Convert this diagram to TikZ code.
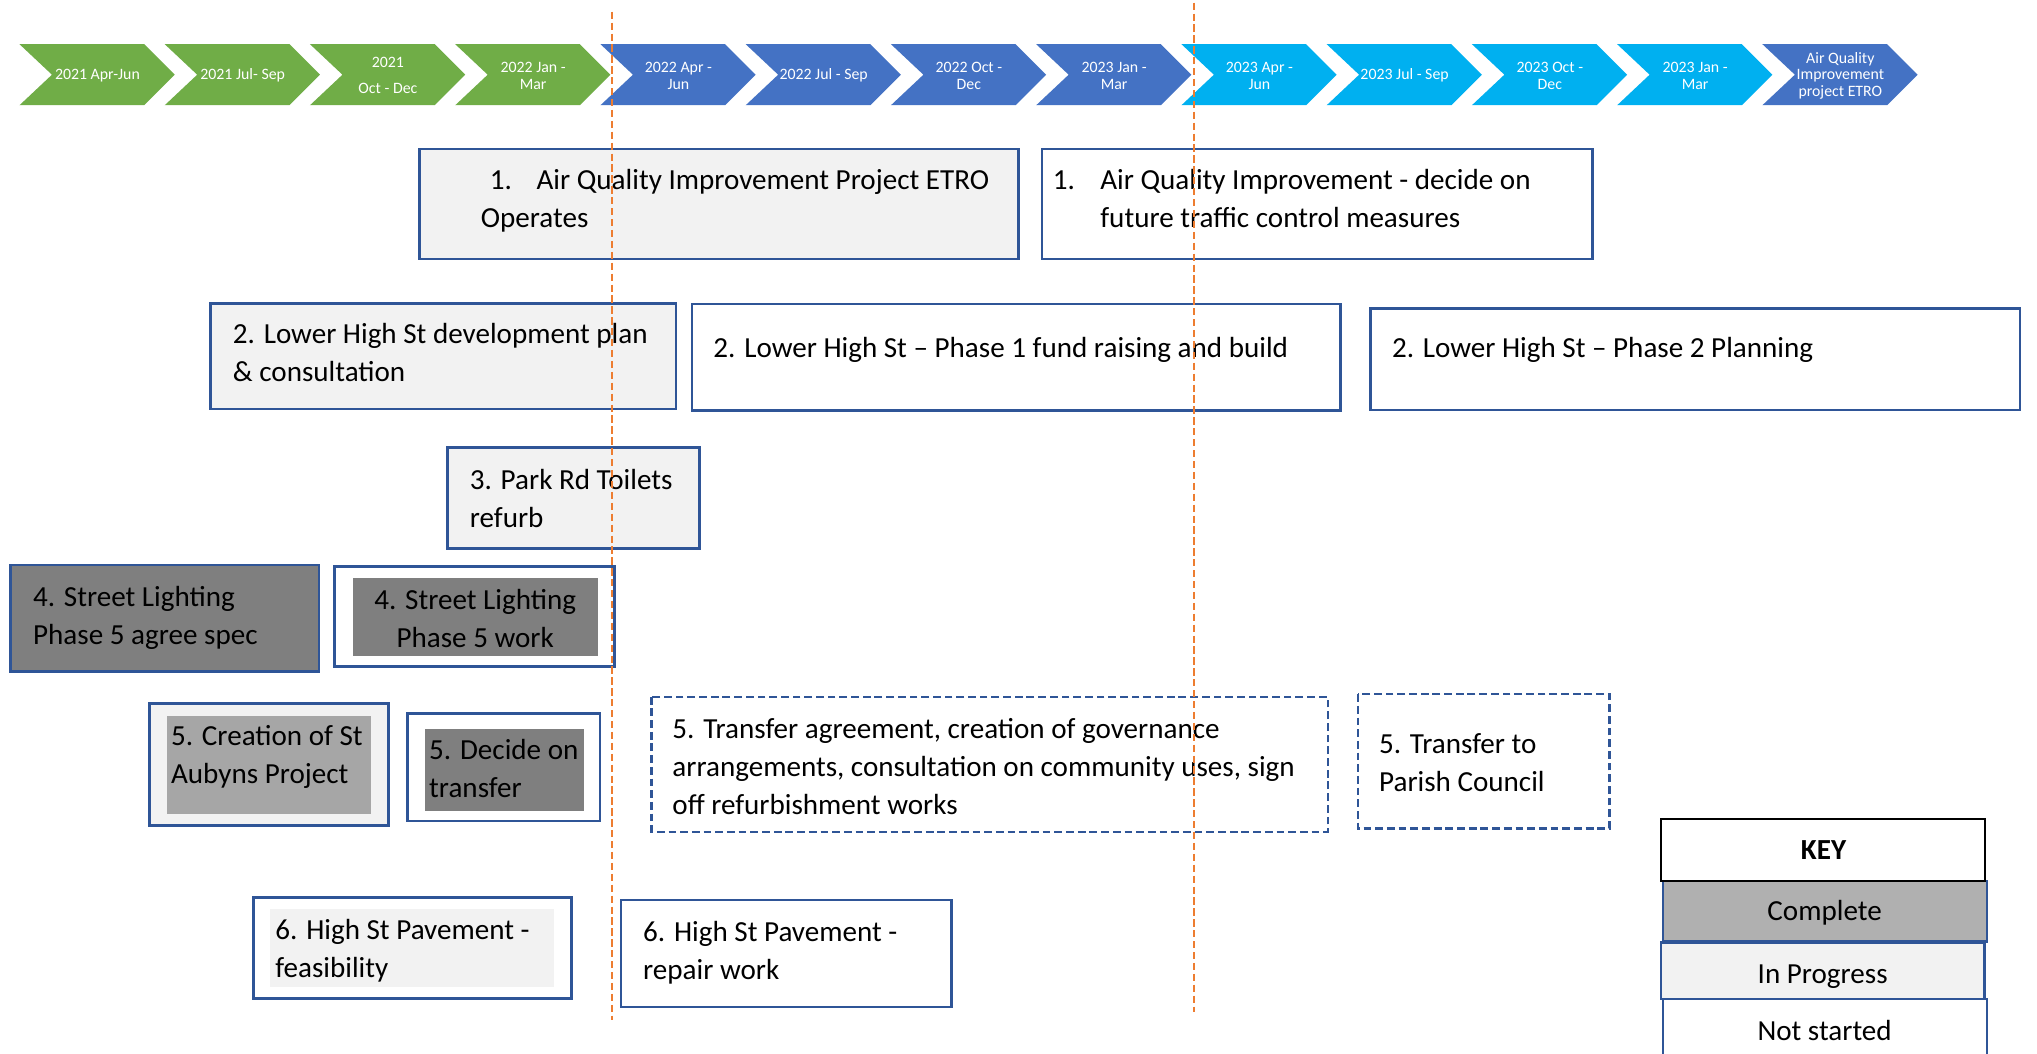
\documentclass[tikz,border=0pt]{standalone}
\usepackage{fontspec}
\setmainfont{Carlito}
\definecolor{gr}{HTML}{70AD47}
\definecolor{bl}{HTML}{4472C4}
\definecolor{cy}{HTML}{00B0F0}
\definecolor{bord}{HTML}{2F5597}
\definecolor{lg}{HTML}{F2F2F2}
\definecolor{dg}{HTML}{7F7F7F}
\definecolor{mg}{HTML}{A6A6A6}
\definecolor{kg}{HTML}{B0B0B0}
\definecolor{orng}{HTML}{ED7D31}
\begin{document}
\begin{tikzpicture}[x=0.5pt,y=-0.5pt,
  bx/.style={draw=bord, line width=1pt},
  dbx/.style={draw=bord, line width=0.8pt, dash pattern=on 3pt off 1.5pt},
  txt/.style={anchor=base west, align=left, inner sep=0pt, yshift=-0.8pt, font=\fontsize{11.2}{14.6}\selectfont},
  ctr/.style={anchor=base, align=center, inner sep=0pt, yshift=-0.8pt, font=\fontsize{11.2}{14.6}\selectfont},
  ctxt/.style={align=center, inner sep=0pt, text=white, yshift=-0.4pt, font=\fontsize{6.1}{6.4}\selectfont},
  orl/.style={draw=orng, line width=0.75pt, dash pattern=on 2.8pt off 1.4pt}]
\useasboundingbox (0,0) rectangle (1568,810.6);
\fill[white] (0,0) rectangle (1568,810.6);
% chevrons
\foreach \i/\col/\t in {0/gr/{2021 Apr-Jun},1/gr/{2021 Jul- Sep},2/gr/{2021\\[3.6pt]Oct - Dec},3/gr/{2022 Jan -\\Mar},
  4/bl/{2022 Apr -\\Jun},5/bl/{2022 Jul - Sep},6/bl/{2022 Oct -\\Dec},7/bl/{2023 Jan -\\Mar},
  8/cy/{2023 Apr -\\Jun},9/cy/{2023 Jul - Sep},10/cy/{2023 Oct -\\Dec},11/cy/{2023 Jan -\\Mar},
  12/bl/{Air Quality\\Improvement\\project ETRO}}{
  \pgfmathsetmacro\xo{15+111.8*\i}
  \fill[\col] (\xo,34) -- ++(96,0) -- ++(23.5,23.5) -- ++(-23.5,23.5) -- ++(-96,0) -- ++(25,-23.5) -- cycle;
  \node[ctxt] (c\i) at (\xo+60,57.5) {\t};
}
% row 1 (node anchors are on the last line's baseline)
\draw[bx, fill=lg] (323,114.7) rectangle (784.2,199.4);
\node[txt] (t1a) at (369.7,173.6) {\hspace*{3.5pt}\makebox[18pt][l]{1.}Air Quality Improvement Project ETRO\\Operates};
\draw[bx, fill=white] (802.2,114.7) rectangle (1225.7,199.4);
\node[txt] (t1b) at (810,173.6) {\makebox[18.3pt][l]{1.}Air Quality Improvement - decide on\\\hspace*{18.3pt}future traffic control measures};
% row 2
\draw[bx, fill=lg] (162.2,233.5) rectangle (520.2,314.9);
\node[txt] (t2a) at (178.9,292) {2. Lower High St development plan\\\& consultation};
\draw[bx, fill=white] (532.8,234) rectangle (1031.8,316.2);
\node[txt] (t2b) at (548.8,273.8) {2. Lower High St – Phase 1 fund raising and build};
\draw[bx, fill=white] (1055.1,237.4) rectangle (1554.8,315.6);
\node[txt] (t2c) at (1071.1,273.8) {2. Lower High St – Phase 2 Planning};
% row 3
\draw[bx, fill=lg] (344.4,344.6) rectangle (538.4,422.4);
\node[txt] (t3) at (361.3,404.2) {3. Park Rd Toilets\\refurb};
% row 4
\draw[bx, fill=dg] (7.9,435) rectangle (245.7,517);
\node[txt] (t4a) at (25.1,494.7) {4. Street Lighting\\Phase 5 agree spec};
\draw[bx, fill=white] (257.7,436.2) rectangle (472.9,513.2);
\fill[dg] (271.8,445.2) rectangle (460.3,504.8);
\node[ctr] (t4b) at (365.8,496.6) {4. Street Lighting\\Phase 5 work};
% row 5
\draw[bx, fill=lg] (115.3,541.5) rectangle (299.1,635.6);
\fill[mg] (128.8,551.2) rectangle (285.9,626.9);
\node[txt] (t5a) at (131.3,601.8) {5. Creation of St\\Aubyns Project};
\draw[bx, fill=white] (313.6,549.2) rectangle (461.9,632.1);
\fill[dg] (327.4,561.5) rectangle (449.3,623.9);
\node[txt] (t5b) at (330,612) {5. Decide on\\transfer};
\draw[dbx, fill=white] (501.5,536.3) rectangle (1021.9,640.2);
\node[txt] (t5c) at (517.2,625.3) {5. Transfer agreement, creation of governance\\arrangements, consultation on community uses, sign\\off refurbishment works};
\draw[dbx, fill=white] (1045,534.3) rectangle (1238.9,637.7);
\node[txt] (t5d) at (1061.2,607.6) {5. Transfer to\\Parish Council};
% row 6
\draw[bx, fill=white] (195.1,690.8) rectangle (439.7,768.5);
\fill[lg] (208.1,699.8) rectangle (426.4,759.6);
\node[txt] (t6a) at (211.6,750.6) {6. High St Pavement -\\feasibility};
\draw[bx, fill=white] (478.1,692.8) rectangle (732.6,775);
\node[txt] (t6b) at (494.7,752.6) {6. High St Pavement -\\repair work};
% key
\draw[bx, fill=kg] (1280,678.2) rectangle (1529.4,724.9);
\draw[bx, fill=lg] (1278.5,725.7) rectangle (1527.6,769.1);
\draw[bx, fill=white] (1280,769.1) rectangle (1529.4,815);
\draw[line width=1pt, fill=white] (1278.5,630.5) rectangle (1528.1,678.2);
\node[ctr, font=\fontsize{11.2}{14.6}\selectfont\bfseries] (kkey) at (1403.7,660) {KEY};
\node[ctr] (kcomp) at (1404.5,707) {Complete};
\node[ctr] (kprog) at (1403,755.7) {In Progress};
\node[ctr] (knot) at (1404.5,799.3) {Not started};
% today lines
\draw[orl] (470.9,9) -- (470.9,785.5);
\draw[orl] (919.1,2) -- (919.1,779);
\end{tikzpicture}
\end{document}
